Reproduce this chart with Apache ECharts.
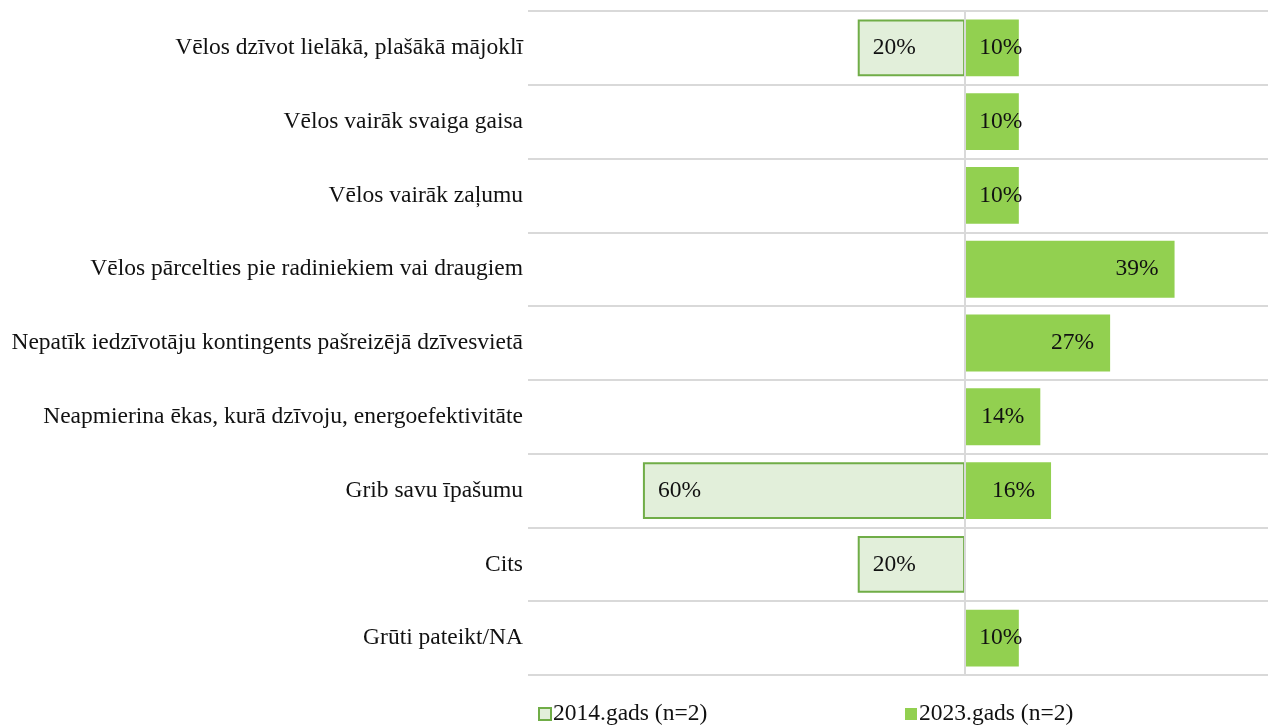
<!DOCTYPE html>
<html>
<head>
<meta charset="utf-8">
<script src="https://cdn.jsdelivr.net/npm/echarts@6/dist/echarts.min.js"></script>
<style>
  html, body { margin: 0; padding: 0; background: #fff; }
  #main { width: 1268px; height: 726px; }
</style>
</head>
<body>
<div id="main"></div>
<script>
var categories = [
  'Vēlos dzīvot lielākā, plašākā mājoklī',
  'Vēlos vairāk svaiga gaisa',
  'Vēlos vairāk zaļumu',
  'Vēlos pārcelties pie radiniekiem vai draugiem',
  'Nepatīk iedzīvotāju kontingents pašreizējā dzīvesvietā',
  'Neapmierina ēkas, kurā dzīvoju, energoefektivitāte',
  'Grib savu īpašumu',
  'Cits',
  'Grūti pateikt/NA'
];
var values2014 = [20, null, null, null, null, null, 60, 20, null];
var values2023 = [10, 10, 10, 39, 27, 14, 16, null, 10];
var seriesNames = ['2014.gads (n=2)', '2023.gads (n=2)'];

var font = '"Liberation Serif", "Times New Roman", serif';
var fs = 23.5;
var chartDom = document.getElementById('main');
var myChart = echarts.init(chartDom);

// 2014 drawn to the left of zero
var data2014 = values2014.map(function (v) {
  return v == null ? null : -v;
});
var data2023 = values2023.map(function (v) {
  if (v == null) return null;
  if (v < 12) {
    return { value: v, label: { position: 'insideLeft', distance: 14 } };
  }
  return v;
});

var option = {
  animation: false,
  grid: { left: 528, right: 0, top: 11, bottom: 51 },
  legend: [
    {
      data: [seriesNames[0]],
      left: 538, top: 702, padding: 0,
      icon: 'rect', itemWidth: 12, itemHeight: 12, itemGap: 3,
      textStyle: { fontFamily: font, fontSize: fs, color: '#111', padding: [0, 0, 0, -3] }
    },
    {
      data: [seriesNames[1]],
      left: 905, top: 702, padding: 0,
      icon: 'rect', itemWidth: 12, itemHeight: 12, itemGap: 3,
      textStyle: { fontFamily: font, fontSize: fs, color: '#111', padding: [0, 0, 0, -3] }
    }
  ],
  xAxis: {
    type: 'value',
    min: -81.4,
    max: 56.4,
    axisLine: { show: false },
    axisTick: { show: false },
    axisLabel: { show: false },
    splitLine: { show: false }
  },
  yAxis: {
    type: 'category',
    data: categories,
    inverse: true,
    axisLine: { show: false },
    axisTick: { show: false },
    axisLabel: { fontFamily: font, fontSize: fs, color: '#111', margin: 5 },
    splitLine: { show: true, lineStyle: { color: '#d9d9d9', width: 2 } }
  },
  series: [
    {
      name: seriesNames[0],
      type: 'bar',
      data: data2014,
      barGap: '-100%',
      barCategoryGap: '23%',
      itemStyle: { color: '#e2efda', borderColor: '#70ad47', borderWidth: 2 },
      label: {
        show: true,
        position: 'insideLeft',
        distance: 15,
        fontFamily: font, fontSize: fs, color: '#111',
        formatter: function (p) { return Math.abs(p.value) + '%'; }
      },
      markLine: {
        silent: true,
        symbol: 'none',
        label: { show: false },
        lineStyle: { color: '#d9d9d9', width: 2, type: 'solid' },
        data: [{ xAxis: 0 }]
      }
    },
    {
      name: seriesNames[1],
      type: 'bar',
      data: data2023,
      barGap: '-100%',
      barCategoryGap: '23%',
      itemStyle: { color: '#92d050' },
      label: {
        show: true,
        position: 'insideRight',
        distance: 16,
        fontFamily: font, fontSize: fs, color: '#111',
        formatter: '{c}%'
      }
    }
  ]
};

myChart.setOption(option);
</script>
</body>
</html>
